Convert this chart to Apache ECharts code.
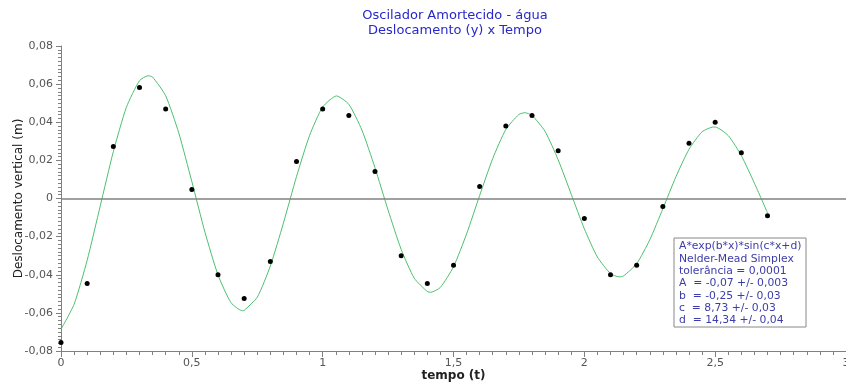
<!DOCTYPE html>
<html>
<head>
<meta charset="utf-8">
<script src="https://cdn.jsdelivr.net/npm/echarts@6/dist/echarts.min.js"></script>
<style>
html, body { margin: 0; padding: 0; background: #fff; }
#chart { width: 846px; height: 383px; }
</style>
</head>
<body>
<div id="chart"></div>
<script>
// pontos medidos
var tempos = [0, 0.1, 0.2, 0.3, 0.4, 0.5, 0.6, 0.7, 0.8, 0.9, 1.0, 1.1, 1.2, 1.3,
	1.4, 1.5, 1.6, 1.7, 1.8, 1.9, 2.0, 2.1, 2.2, 2.3, 2.4, 2.5, 2.6, 2.7];
var deslocamentos = [-0.0755, -0.0446, 0.0273, 0.0582, 0.047, 0.0047, -0.040, -0.0525,
	-0.033, 0.0194, 0.047, 0.0435, 0.0142, -0.030, -0.0446, -0.035, 0.0063, 0.038,
	0.0435, 0.025, -0.0105, -0.040, -0.035, -0.0042, 0.029, 0.040, 0.024, -0.009];

// curva ajustada (com os picos)
var curvaT = [0, 0.05, 0.1, 0.15, 0.2, 0.25, 0.3, 0.333, 0.35, 0.4, 0.45, 0.5, 0.55, 0.6, 0.65,
	0.693, 0.7, 0.75, 0.8, 0.85, 0.9, 0.95, 1.0, 1.053, 1.1, 1.15, 1.2, 1.25, 1.3, 1.35, 1.4,
	1.413, 1.45, 1.5, 1.55, 1.6, 1.65, 1.7, 1.75, 1.773, 1.8, 1.85, 1.9, 1.95, 2.0, 2.05, 2.1,
	2.133, 2.15, 2.2, 2.25, 2.3, 2.35, 2.4, 2.45, 2.493, 2.5, 2.55, 2.6, 2.65, 2.7];
var curvaY = [-0.0686, -0.0555, -0.0324, -0.0039, 0.0246, 0.0479, 0.0618, 0.0644, 0.0637, 0.0539,
	0.0344, 0.0089, -0.0176, -0.0401, -0.0547, -0.0589, -0.0587, -0.0518, -0.0354, -0.0129, 0.0115,
	0.0331, 0.0480, 0.0538, 0.0494, 0.0359, 0.0161, -0.0061, -0.0267, -0.0418, -0.0488,
	-0.0492, -0.0466, -0.0358, -0.0186, 0.0016, 0.0210, 0.0362, 0.0441, 0.0450, 0.0436, 0.0352,
	0.0203, 0.0022, -0.0159, -0.0307, -0.0394, -0.0411, -0.0406, -0.0342, -0.0217, -0.0054,
	0.0114, 0.0258, 0.0350, 0.0375, 0.0375, 0.0330, 0.0225, 0.0080, -0.0075];

var titulo = ['Oscilador Amortecido - água', 'Deslocamento (y) x Tempo'];
var ajuste = ['A*exp(b*x)*sin(c*x+d)', 'Nelder-Mead Simplex', 'tolerância = 0,0001',
	'A  = -0,07 +/- 0,003', 'b  = -0,25 +/- 0,03', 'c  = 8,73 +/- 0,03', 'd  = 14,34 +/- 0,04'];

var fonte = 'DejaVu Sans, Verdana, sans-serif';

function virgula(v) {
	if (v === 0) return '0';
	return String(+v.toFixed(2)).replace('.', ',');
}

var chart = echarts.init(document.getElementById('chart'));

var pontos = [];
for (var i = 0; i < tempos.length; i++) pontos.push([tempos[i], deslocamentos[i]]);
var curva = [];
for (var j = 0; j < curvaT.length; j++) curva.push([curvaT[j], curvaY[j]]);

var graficos = [];
for (var k = 0; k < titulo.length; k++) {
	graficos.push({
		type: 'text', x: 455, y: 9 + k * 15, z: 10,
		style: { text: titulo[k], fill: '#2828c8', font: '13px ' + fonte, textAlign: 'center' }
	});
}
graficos.push({
	type: 'rect', shape: { x: 674, y: 238, width: 132, height: 89 },
	style: { fill: '#fff', stroke: '#888', lineWidth: 1 }, z: 20
});
for (var m = 0; m < ajuste.length; m++) {
	graficos.push({
		type: 'text', x: 679, y: 241 + m * 12.3, z: 21,
		style: { text: ajuste[m], fill: '#3c3caa', font: '10.8px ' + fonte }
	});
}

var option = {
	animation: false,
	grid: { left: 61, right: 0, top: 46, bottom: 32, outerBoundsMode: 'none', containLabel: false },
	graphic: graficos,
	xAxis: {
		type: 'value', min: 0, max: 3, interval: 0.5,
		name: 'tempo (t)', nameLocation: 'middle', nameGap: 19, nameMoveOverlap: false,
		nameTextStyle: { color: '#222', fontWeight: 'bold', fontSize: 12, fontFamily: fonte },
		axisLine: { show: true, onZero: false, lineStyle: { color: '#808080' } },
		axisTick: { show: true, length: 6, lineStyle: { color: '#808080' } },
		minorTick: { show: true, splitNumber: 10, length: 4, lineStyle: { color: '#808080' } },
		splitLine: { show: false },
		axisLabel: { formatter: virgula, color: '#555', fontSize: 11, fontFamily: fonte, margin: 7 }
	},
	yAxis: {
		type: 'value', min: -0.08, max: 0.08, interval: 0.02,
		name: 'Deslocamento vertical (m)', nameLocation: 'middle', nameGap: 36, nameMoveOverlap: false,
		nameTextStyle: { color: '#222', fontSize: 12, fontFamily: fonte },
		axisLine: { show: true, lineStyle: { color: '#808080' } },
		axisTick: { show: true, length: 5, lineStyle: { color: '#808080' } },
		minorTick: { show: true, splitNumber: 10, length: 3, lineStyle: { color: '#808080' } },
		splitLine: { show: false },
		axisLabel: { formatter: virgula, color: '#555', fontSize: 11, fontFamily: fonte, margin: 8 }
	},
	series: [{
		name: 'ajuste', type: 'line', data: curva, showSymbol: false, smooth: 0.2,
		lineStyle: { color: '#4cbf6e', width: 1 }, z: 2,
		markLine: {
			silent: true, symbol: 'none', label: { show: false },
			lineStyle: { color: '#808080', width: 1.5, type: 'solid' },
			data: [{ yAxis: 0 }]
		}
	}, {
		name: 'medidas', type: 'scatter', data: pontos, symbolSize: 5,
		itemStyle: { color: '#000', opacity: 1 }, z: 3
	}]
};

chart.setOption(option);
</script>
</body>
</html>
